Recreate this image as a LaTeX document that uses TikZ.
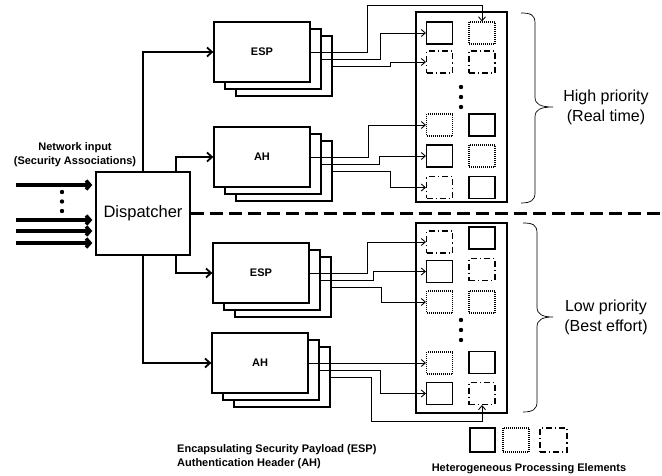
\documentclass[tikz,border=0pt]{standalone}
\usepackage{fontspec}
\setmainfont{Liberation Sans}
\usetikzlibrary{arrows.meta,calc}
\begin{document}
\begin{tikzpicture}[x=1pt,y=-1pt,
  stk/.style={draw,line width=1.3pt,fill=white,minimum width=96pt,minimum height=60pt,inner sep=0pt,font=\bfseries\fontsize{11}{13}\selectfont},
  pe/.style={line width=1.1pt,minimum width=26pt,minimum height=22pt,inner sep=0pt},
  pes/.style={pe,draw},
  ped/.style={pe,draw,dash pattern=on 1pt off 1pt},
  pec/.style={pe,draw,dash pattern=on 6pt off 3pt on 1.2pt off 3pt},
  conn/.style={line width=0.9pt,-{Straight Barb[length=4pt,width=7pt]}},
  dconn/.style={line width=1.8pt,-{Straight Barb[length=5pt,width=9pt]}},
  inarr/.style={line width=3.5pt,-{Straight Barb[length=4pt,width=9pt]}},
  bracestyle/.style={line width=0.7pt},
  big/.style={font=\fontsize{16}{20.5}\selectfont,align=center},
  small/.style={font=\bfseries\fontsize{11}{14}\selectfont}
]
\useasboundingbox (0,0) rectangle (662,476);

% dispatcher
\node[draw,line width=1.3pt,minimum width=94pt,minimum height=83pt,inner sep=0pt,font=\fontsize{16.5}{18}\selectfont] (disp) at (143,213.5) {Dispatcher};

% containers
\node[draw,line width=1.3pt,minimum width=91pt,minimum height=190pt,inner sep=0pt] (boxH) at (461.5,107) {};
\node[draw,line width=1.3pt,minimum width=91pt,minimum height=190pt,inner sep=0pt] (boxL) at (461.5,318) {};

% PEs top
\node[pes] (l1) at (439.5,33) {};
\node[pec] (l2) at (439.5,62) {};
\node[ped] (l3) at (439.5,125) {};
\node[pes] (l4) at (439.5,156) {};
\node[pec] (l5) at (439.5,187.5) {};
\node[ped] (r1) at (482,33) {};
\node[pec] (r2) at (482,62) {};
\node[pes] (r3) at (482,125) {};
\node[ped] (r4) at (482,156) {};
\node[pes] (r5) at (482,187.5) {};
% PEs bottom
\node[pec] (l6) at (439.5,242) {};
\node[pes] (l7) at (439.5,271.5) {};
\node[ped] (l8) at (439.5,302) {};
\node[ped] (l9) at (439.5,363) {};
\node[pes] (l10) at (439.5,393.5) {};
\node[pes] (r6) at (482,238) {};
\node[pec] (r7) at (482,269.5) {};
\node[ped] (r8) at (482,302) {};
\node[pes] (r9) at (482,362.5) {};
\node[pec] (r10) at (482,393.5) {};

% dots
\foreach \y in {87,97,107,320,330,340} \fill (461,\y) circle (2.2pt);
\foreach \y in {192,201.5,211} \fill (62,\y) circle (2.2pt);

% stacks
\node[stk] (espA3) at (284,66) {};
\node[stk] (espA2) at (273,59) {};
\node[stk] (espA) at (262,52) {ESP};
\node[stk] (ahA3) at (284,171) {};
\node[stk] (ahA2) at (273,164) {};
\node[stk] (ahA) at (262,157) {AH};
\node[stk] (espB3) at (283,287) {};
\node[stk] (espB2) at (272,280) {};
\node[stk] (espB) at (261,273) {ESP};
\node[stk] (ahB3) at (282,377) {};
\node[stk] (ahB2) at (271,370) {};
\node[stk] (ahB) at (260,363) {AH};

% connectors to PEs
\coordinate (t1) at (367,5);
\draw[conn] (espA.east) -| (t1) -| (r1.north);
\draw[conn] (espA2.east) -- ++(59,0) |- (l1.west);
\draw[conn] (espA3.east) -- ++(58,0) |- (l2.west);
\draw[conn] (ahA.east) -- ++(58,0) |- (l3.west);
\draw[conn] (ahA2.east) -- ++(58,0) |- (l4.west);
\draw[conn] (ahA3.east) -- ++(58,0) |- (l5.west);
\draw[conn] (espB.east) -- ++(58,0) |- (l6.west);
\draw[conn] (espB2.east) -- ++(53,0) |- (l7.west);
\draw[conn] (espB3.east) -- ++(50,0) |- (l8.west);
\draw[conn] (ahB.east) -- (l9.west);
\draw[conn] (ahB2.east) -- ++(61,0) |- (l10.west);
\draw[conn] (ahB3.east) -- ++(41,0) |- ($(r10.south)+(0,16)$) -- (r10.south);

% dispatcher outputs
\draw[dconn] (disp.north) |- (espA.west);
\draw[dconn] ($(disp.north east)+(-15,0)$) |- (ahA.west);
\draw[dconn] ($(disp.south east)+(-15,0)$) |- (espB.west);
\draw[dconn] (disp.south) |- (ahB.west);

% inputs
\foreach \y/\n in {185/1,220/2,231/3,243/4} {
  \coordinate (in\n) at (16,\y);
  \draw[inarr,shorten >=3pt] (in\n) -- (in\n -| disp.west);
}

% separator
\coordinate (sepEnd) at (662,213.5);
\draw[line width=2.5pt,dash pattern=on 13pt off 6pt] (disp.east) -- (sepEnd);

% braces
\draw[bracestyle] (521,13) .. controls (531,13) and (535,15) .. (535,23) -- (535,97)
  .. controls (535,104) and (540,107) .. (553,107)
  .. controls (540,107) and (535,110) .. (535,117) -- (535,193)
  .. controls (535,200) and (531,203) .. (521,203);
\draw[bracestyle] (523,223) .. controls (533,223) and (537,225) .. (537,233) -- (537,307)
  .. controls (537,314) and (542,317) .. (553,317)
  .. controls (542,317) and (537,320) .. (537,327) -- (537,402)
  .. controls (537,409) and (533,412) .. (523,412);

% labels
\node[big] (hp) at (606,107.5) {High priority\\(Real time)};
\node[big] (lp) at (606,317.5) {Low priority\\(Best effort)};
\node[small,align=center] (netin) at (75,155) {Network input\\(Security Associations)};
\node[small,align=left,anchor=west,inner sep=0pt] (legend) at (177,456.5) {Encapsulating Security Payload (ESP)\\Authentication Header (AH)};
\node[small] (hpe) at (529,469) {Heterogeneous Processing Elements};

% legend PEs
\node[pes,minimum width=25pt,minimum height=24pt] (k1) at (482.5,440) {};
\node[ped,minimum width=26pt,minimum height=24pt] (k2) at (516,440) {};
\node[pec,minimum width=27pt,minimum height=24pt] (k3) at (553.5,440) {};
\end{tikzpicture}
\end{document}
